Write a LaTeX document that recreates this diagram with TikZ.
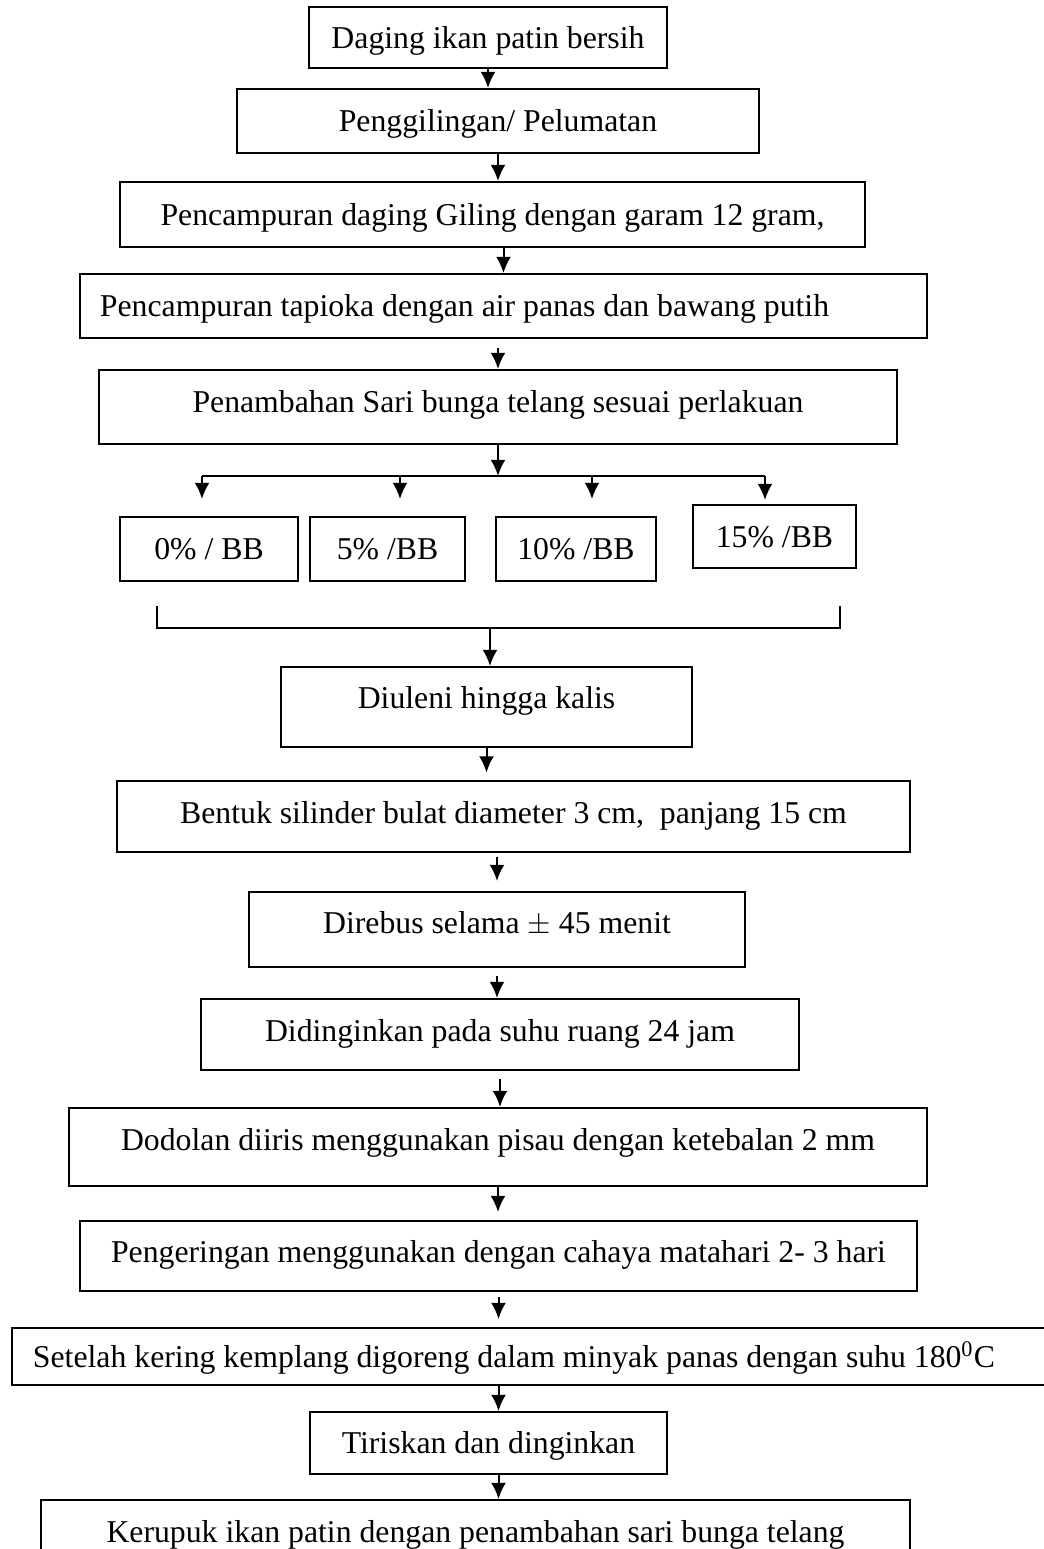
\documentclass[tikz,border=0pt,12pt]{standalone}
\usepackage{fontspec}
\setmainfont{Liberation Serif}
\usetikzlibrary{calc,arrows.meta}

\begin{document}
\begin{tikzpicture}[x=0.4pt,y=-0.4pt,>={Latex[length=6.5pt,width=6pt]},
                    stepbox/.style={draw,line width=0.8pt,inner sep=0pt,text height=8.4pt,text depth=0pt,font=\fontsize{12.7}{15}\selectfont},
                    leftbox/.style={stepbox,inner xsep=8pt,align=flush left},
                    flow/.style={->,line width=0.8pt}]
                                     \useasboundingbox (0,0) rectangle (1044,1549);
                                     \node[stepbox,minimum width=143.2pt,minimum height=24.4pt](b1)at(488,37.5){Daging ikan patin bersih};
                                     \node[stepbox,minimum width=208.8pt,minimum height=25.6pt](b2)at(498,121){Penggilingan/ Pelumatan};
                                     \node[stepbox,minimum width=298pt,minimum height=26pt](b3)at(492.5,214.5){Pencampuran daging Giling dengan garam 12 gram,};
                                     \node[leftbox,text width=322.8pt,minimum height=25.6pt](b4)at(503.5,306){Pencampuran tapioka dengan air panas dan bawang putih};
                                     \node[stepbox,minimum width=319.2pt,minimum height=29.6pt,text depth=4pt](b5)at(498,407){Penambahan Sari bunga telang sesuai perlakuan};
                                     \node[stepbox,minimum width=71.2pt,minimum height=25.6pt](p0)at(209,549){0\% / BB};
                                     \node[stepbox,minimum width=62pt,minimum height=25.6pt](p5)at(387.5,549){5\% /BB};
                                     \node[stepbox,minimum width=64pt,minimum height=25.6pt](p10)at(576,549){10\% /BB};
                                     \node[stepbox,minimum width=65.2pt,minimum height=25.2pt](p15)at(774.5,536.5){15\% /BB};
                                     \node[stepbox,minimum width=164.4pt,minimum height=32pt,text depth=7.2pt](b6)at(486.5,707){Diuleni hingga kalis};
                                     \node[stepbox,minimum width=317.2pt,minimum height=28.4pt,text depth=2.8pt](b7)at(513.5,816.5){Bentuk silinder bulat diameter 3 cm,\ \ panjang 15 cm};
                                     \node[stepbox,minimum width=198.4pt,minimum height=30pt,text depth=5.2pt](b8)at(497,929.5){Direbus selama $\pm$ 45 menit};
                                     \node[stepbox,minimum width=239.2pt,minimum height=28.4pt,text depth=2.8pt](b9)at(500,1034.5){Didinginkan pada suhu ruang 24 jam};
                                     \node[stepbox,minimum width=343.2pt,minimum height=31.2pt,text depth=5.6pt](b10)at(498,1147){Dodolan diiris menggunakan pisau dengan ketebalan 2 mm};
                                     \node[stepbox,minimum width=334.8pt,minimum height=28pt,text depth=3.2pt](b11)at(498.5,1256){Pengeringan menggunakan dengan cahaya matahari 2- 3 hari};
                                     \node[leftbox,inner xsep=8.4pt,text width=404pt,minimum height=22.8pt](b12)at(538,1356.5){Setelah kering kemplang digoreng dalam minyak panas dengan suhu 180\textsuperscript{0}C};
                                     \node[stepbox,minimum width=142.8pt,minimum height=24.8pt](b13)at(488.5,1443){Tiriskan dan dinginkan};
                                     \node[stepbox,minimum width=347.6pt,minimum height=25.6pt](b14)at(475.5,1532){Kerupuk ikan patin dengan penambahan sari bunga telang};
                                     \coordinate(split)at(498,476);
                                     \coordinate(d0)at(202,476);
                                     \coordinate(d1)at(400,476);
                                     \coordinate(d2)at(592,476);
                                     \coordinate(d3)at(765,476);
                                     \coordinate(jl)at(157,606);
                                     \coordinate(jr)at(840,606);
                                     \coordinate(join)at(490,628);
                                     \draw[flow](b1.south)--(b1.south|-b2.north);
                                     \draw[flow](b2.south)--(b2.south|-b3.north);
                                     \draw[flow](b4.north|-b3.south)--(b4.north);
                                     \draw[flow,shorten <=3.6pt](b5.north|-b4.south)--(b5.north);
                                     \draw[flow](b5.south)--(split);
                                     \draw[line width=0.8pt](d0)--(d3);
                                     \draw[flow,shorten >=6.8pt](d0)--(d0|-p0.north);
                                     \draw[flow,shorten >=6.8pt](d1)--(d1|-p5.north);
                                     \draw[flow,shorten >=6.8pt](d2)--(d2|-p10.north);
                                     \draw[flow,shorten >=1.6pt](d3)--(d3|-p15.north);
                                     \draw[line width=0.8pt](jl)|-(join)-|(jr);
                                     \draw[flow](join)--(join|-b6.north);
                                     \draw[flow,shorten >=3pt](b6.south)--(b6.south|-b7.north);
                                     \draw[flow,shorten <=1.6pt,shorten >=4pt](b8.north|-b7.south)--(b8.north);
                                     \draw[flow,shorten <=3.2pt](b8.south)--(b8.south|-b9.north);
                                     \draw[flow,shorten <=3.2pt](b9.south)--(b9.south|-b10.north);
                                     \draw[flow,shorten >=3.2pt](b10.south)--(b10.south|-b11.north);
                                     \draw[flow,shorten <=2pt,shorten >=3.2pt](b11.south)--(b11.south|-b12.north);
                                     \draw[flow](b12.south-|b11.south)--(b13.north-|b11.south);
                                     \draw[flow](b13.south-|b11.south)--(b14.north-|b11.south);
                                 \end{tikzpicture}
\end{document}
